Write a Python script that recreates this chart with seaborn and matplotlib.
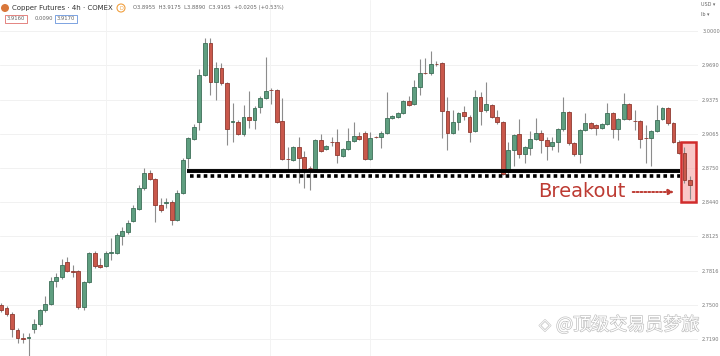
import numpy as np
import pandas as pd
import matplotlib
matplotlib.use("Agg")
import matplotlib.pyplot as plt
import matplotlib.patheffects as pe
import seaborn as sns
from matplotlib.patches import Rectangle, Ellipse

# ---------------- data ----------------
opens = [2.7497, 2.7470, 2.7415, 2.7269, 2.7196, 2.7196, 2.7278, 2.7323, 2.7452, 2.7506,
         2.7717, 2.7753, 2.7891, 2.7808, 2.7808, 2.7479, 2.7708, 2.7973, 2.7863, 2.7854,
         2.7973, 2.7973, 2.8128, 2.8164, 2.8265, 2.8375, 2.8567, 2.8704, 2.8649, 2.8411,
         2.8429, 2.8439, 2.8274, 2.8521, 2.8841, 2.9015, 2.9170, 2.9600, 2.9892, 2.9536,
         2.9663, 2.9526, 2.9170, 2.9170, 2.9060, 2.9216, 2.9188, 2.9307, 2.9389, 2.9462,
         2.9462, 2.9179, 2.8832, 2.8823, 2.8941, 2.8850, 2.8750, 2.8740, 2.9005, 2.8923,
         2.8987, 2.8987, 2.8859, 2.8923, 2.8996, 2.9042, 2.9069, 2.8832, 2.9033, 2.9033,
         2.9069, 2.9207, 2.9216, 2.9252, 2.9362, 2.9334, 2.9490, 2.9618, 2.9618, 2.9700,
         2.9709, 2.9270, 2.9069, 2.9170, 2.9261, 2.9216, 2.9088, 2.9398, 2.9280, 2.9325,
         2.9216, 2.9170, 2.8713, 2.8914, 2.9060, 2.8877, 2.8932, 2.9015, 2.9069, 2.9005,
         2.8951, 2.8987, 2.9106, 2.9261, 2.8978, 2.8877, 2.9097, 2.9161, 2.9143, 2.9115,
         2.9152, 2.9252, 2.9106, 2.9197, 2.9334, 2.9179, 2.9179, 2.9024, 2.9024, 2.9088,
         2.9197, 2.9298, 2.9161, 2.8987, 2.8887, 2.8640]
highs = [2.7516, 2.7488, 2.7434, 2.7287, 2.7242, 2.7242, 2.7369, 2.7461, 2.7580, 2.7753,
         2.7790, 2.7918, 2.7936, 2.7863, 2.7817, 2.7717, 2.7982, 2.7991, 2.7927, 2.7991,
         2.8109, 2.8155, 2.8210, 2.8274, 2.8411, 2.8594, 2.8750, 2.8731, 2.8658, 2.8475,
         2.8475, 2.8457, 2.8549, 2.8841, 2.9033, 2.9152, 2.9654, 2.9938, 2.9938, 2.9718,
         2.9709, 2.9536, 2.9344, 2.9188, 2.9325, 2.9453, 2.9316, 2.9408, 2.9764, 2.9481,
         2.9471, 2.9389, 2.8941, 2.8951, 2.9033, 2.8905, 2.8768, 2.9015, 2.9060, 2.8960,
         2.9033, 2.9106, 2.8932, 2.9115, 2.9170, 2.9078, 2.9088, 2.9078, 2.9042, 2.9088,
         2.9444, 2.9234, 2.9261, 2.9371, 2.9408, 2.9554, 2.9746, 2.9755, 2.9819, 2.9727,
         2.9718, 2.9398, 2.9280, 2.9261, 2.9316, 2.9234, 2.9462, 2.9444, 2.9536, 2.9334,
         2.9280, 2.9179, 2.8987, 2.9060, 2.9197, 2.8951, 2.9088, 2.9207, 2.9097, 2.9033,
         2.9033, 2.9115, 2.9398, 2.9270, 2.8987, 2.9106, 2.9252, 2.9170, 2.9152, 2.9161,
         2.9344, 2.9261, 2.9207, 2.9435, 2.9344, 2.9280, 2.9188, 2.9143, 2.9097, 2.9325,
         2.9307, 2.9307, 2.9170, 2.9005, 2.8941, 2.8676]
lows = [2.7434, 2.7397, 2.7205, 2.7151, 2.7151, 2.7013, 2.7242, 2.7305, 2.7434, 2.7497,
        2.7662, 2.7735, 2.7799, 2.7753, 2.7461, 2.7452, 2.7699, 2.7836, 2.7836, 2.7845,
        2.7909, 2.7964, 2.8046, 2.8146, 2.8256, 2.8366, 2.8549, 2.8640, 2.8256, 2.8347,
        2.8384, 2.8229, 2.8265, 2.8512, 2.8750, 2.9005, 2.9097, 2.9590, 2.9417, 2.9371,
        2.9508, 2.8960, 2.8987, 2.9051, 2.9042, 2.9115, 2.9106, 2.9252, 2.9380, 2.9334,
        2.9161, 2.8823, 2.8731, 2.8814, 2.8612, 2.8567, 2.8549, 2.8731, 2.8896, 2.8914,
        2.8951, 2.8795, 2.8850, 2.8914, 2.8987, 2.9005, 2.8823, 2.8823, 2.9024, 2.8932,
        2.9060, 2.9197, 2.9207, 2.9243, 2.9316, 2.9325, 2.9417, 2.9609, 2.9600, 2.9682,
        2.9024, 2.8914, 2.9060, 2.9097, 2.9188, 2.8987, 2.9078, 2.9143, 2.9261, 2.9207,
        2.9152, 2.8686, 2.8695, 2.8768, 2.8841, 2.8795, 2.8868, 2.9005, 2.8887, 2.8823,
        2.8914, 2.8896, 2.9088, 2.8960, 2.8859, 2.8795, 2.9088, 2.9106, 2.9051, 2.9106,
        2.9143, 2.9024, 2.9005, 2.9188, 2.9188, 2.9097, 2.8932, 2.8795, 2.8768, 2.9078,
        2.9188, 2.9143, 2.8978, 2.8877, 2.8612, 2.8466]
closes = [2.7452, 2.7415, 2.7278, 2.7196, 2.7187, 2.7205, 2.7323, 2.7452, 2.7506, 2.7717,
          2.7753, 2.7863, 2.7808, 2.7799, 2.7479, 2.7708, 2.7973, 2.7854, 2.7845, 2.7973,
          2.7982, 2.8137, 2.8174, 2.8247, 2.8384, 2.8567, 2.8704, 2.8649, 2.8411, 2.8366,
          2.8439, 2.8274, 2.8521, 2.8823, 2.9024, 2.9124, 2.9600, 2.9892, 2.9536, 2.9663,
          2.9526, 2.9106, 2.9179, 2.9060, 2.9216, 2.9188, 2.9298, 2.9389, 2.9453, 2.9458,
          2.9170, 2.8832, 2.8828, 2.8941, 2.8841, 2.8740, 2.8746, 2.9005, 2.8905, 2.8951,
          2.8983, 2.8868, 2.8923, 2.8996, 2.9042, 2.9015, 2.8832, 2.9024, 2.9030, 2.9069,
          2.9207, 2.9225, 2.9252, 2.9362, 2.9325, 2.9490, 2.9618, 2.9614, 2.9700, 2.9696,
          2.9270, 2.9069, 2.9170, 2.9252, 2.9225, 2.9078, 2.9398, 2.9270, 2.9334, 2.9216,
          2.9170, 2.8695, 2.8914, 2.9051, 2.8877, 2.8941, 2.9015, 2.9069, 2.9005, 2.8951,
          2.8987, 2.9106, 2.9261, 2.8978, 2.8877, 2.9097, 2.9161, 2.9115, 2.9115, 2.9152,
          2.9252, 2.9106, 2.9197, 2.9334, 2.9197, 2.9175, 2.9015, 2.9020, 2.9088, 2.9188,
          2.9298, 2.9161, 2.8987, 2.8887, 2.8640, 2.8594]

ytick_values = [3.0, 2.96875, 2.9375, 2.90625, 2.875, 2.84375, 2.8125, 2.78125, 2.75, 2.71875]
ytick_labels = ["3.0000", "2.9690", "2.9375", "2.9065", "2.8750", "2.8440",
                "2.8125", "2.7816", "2.7500", "2.7190"]

support_solid = 2.8722
support_dotted = 2.8676
support_start = 33.7
breakout_top = 2.8987
breakout_bottom = 2.8439

header_title = "Copper Futures · 4h · COMEX"
header_ohlc = "O3.8955  H3.9175  L3.8890  C3.9165  +0.0205 (+0.53%)"
header_boxes = ["3.9160", "0.0090", "3.9170"]
watermark = "@顶级交易员梦旅"

# ---------------- styling ----------------
sns.set_theme(style="white")
plt.rcParams["font.family"] = ["DejaVu Sans", "Noto Sans CJK SC"]

GREEN = "#5f9e80"
GREEN_EDGE = "#3d6f58"
RED = "#c9584b"
RED_EDGE = "#8f3a31"
WICK = "#8c8c8c"
ANNO_RED = "#bd3b33"

df = pd.DataFrame({"open": opens, "high": highs, "low": lows, "close": closes})
df["idx"] = np.arange(len(df))
df["up"] = df["close"] >= df["open"]
df["bottom"] = df[["open", "close"]].min(axis=1)
df["height"] = (df["close"] - df["open"]).abs().clip(lower=0.0007)

fig = plt.figure(figsize=(7.2, 3.56), dpi=100)
ax = fig.add_axes([0, 0, 698 / 720, 1])
ax.set_facecolor("white")

# grid
for v in ytick_values:
    ax.axhline(v, color="#f1f1f1", lw=0.7, zorder=0)
for gx in [19.0, 48.8, 67.0]:
    ax.axvline(gx, color="#f3f3f3", lw=0.7, zorder=0)

n = len(df)

# breakout box fill (behind candles)
ax.add_patch(Rectangle((n - 2.65, breakout_bottom), 2.75, breakout_top - breakout_bottom,
                       facecolor="#f5a3a3", alpha=0.6, edgecolor="none", zorder=1))

# wicks
ax.vlines(df["idx"], df["low"], df["high"], color=WICK, lw=0.8, zorder=2)
# bodies
colors = np.where(df["up"], GREEN, RED)
edges = np.where(df["up"], GREEN_EDGE, RED_EDGE)
ax.bar(df["idx"], df["height"], bottom=df["bottom"], width=0.7,
       color=colors, edgecolor=edges, linewidth=0.6, zorder=3)

ax.set_xlim(-0.18, 126.45)
ax.set_ylim(2.7031, 3.0285)

# support lines
ax.hlines(support_solid, support_start, n - 2.8, color="black", lw=2.8, zorder=4)
ax.hlines(support_dotted, support_start + 0.5, n - 2.8, color="black", lw=2.6,
          linestyles=(0, (1.0, 0.9)), zorder=4)

# breakout box border
ax.add_patch(Rectangle((n - 2.65, breakout_bottom), 2.75, breakout_top - breakout_bottom,
                       facecolor="none", edgecolor="#d12c2c", lw=1.8, zorder=6))

ax.text(97.4, 2.8485, "Breakout", color=ANNO_RED, fontsize=14, ha="left",
        va="baseline", zorder=6)
ax.annotate("", xy=(122.6, 2.8530), xytext=(114.1, 2.8530),
            arrowprops=dict(arrowstyle="-|>", color=ANNO_RED, lw=1.4,
                            linestyle=(0, (1, 1)), mutation_scale=8), zorder=6)

# axes
ax.yaxis.tick_right()
ax.set_yticks(ytick_values)
ax.set_yticklabels(ytick_labels)
ax.tick_params(axis="y", labelsize=3.6, colors="#777777", length=0, pad=3)
ax.set_xticks([])
for s in ax.spines.values():
    s.set_visible(False)

# header
def fx(px):
    return px / 720
def fy(py):
    return 1 - py / 356

fig.patches.append(Ellipse((fx(5), fy(8)), 8 / 720, 8 / 356, transform=fig.transFigure,
                           facecolor="#d9773a", edgecolor="none"))
fig.text(fx(12), fy(8), header_title, fontsize=5, color="#333333", va="center")
fig.patches.append(Ellipse((fx(121), fy(8)), 8 / 720, 8 / 356, transform=fig.transFigure,
                           facecolor="white", edgecolor="#f0a040", lw=0.8))
fig.text(fx(121), fy(8), "D", fontsize=3.5, color="#f0a040", va="center", ha="center")
fig.text(fx(133), fy(8), header_ohlc, fontsize=3.8, color="#666666", va="center")
box_x = [5, 33, 55]
box_c = ["#d9534f", "none", "#4a7fd4"]
for bx, lbl, bc in zip(box_x, header_boxes, box_c):
    fig.text(fx(bx + 2), fy(19), lbl, fontsize=3.8, color="#666666", va="center",
             bbox=dict(boxstyle="square,pad=0.35", facecolor="white",
                       edgecolor=bc if bc != "none" else "white", lw=0.5))
fig.text(fx(701), fy(5), "USD ▾", fontsize=3.5, color="#666666", va="center")
fig.text(fx(701), fy(14), "lb ▾", fontsize=3.5, color="#666666", va="center")

# watermark (outlined light text)
fig.text(fx(545), fy(325), "◈", fontsize=11, color="white", va="center", ha="center",
         path_effects=[pe.withStroke(linewidth=0.9, foreground="#c8c8c8")])
fig.text(fx(556), fy(325), watermark, fontsize=13, color="white", va="center",
         family=["Noto Sans CJK SC", "DejaVu Sans"],
         path_effects=[pe.withStroke(linewidth=0.9, foreground="#bdbdbd")])

fig.savefig("out.png", dpi=100)
